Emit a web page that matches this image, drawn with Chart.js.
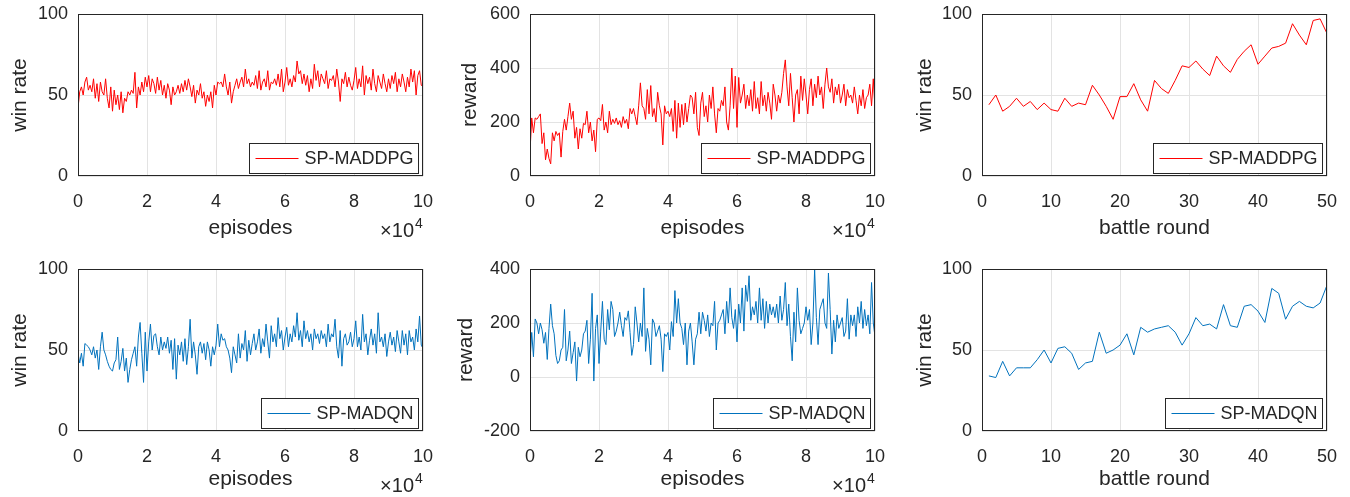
<!DOCTYPE html>
<html>
<head>
<meta charset="utf-8">
<title>SP-MADDPG / SP-MADQN</title>
<script src="https://cdn.jsdelivr.net/npm/chart.js@4.4.1/dist/chart.umd.min.js"></script>
<style>
  body { margin: 0; background: #fff; width: 1350px; height: 497px; position: relative; overflow: hidden; }
  canvas { position: absolute; }
</style>
</head>
<body>
<canvas id="p1"></canvas>
<canvas id="p2"></canvas>
<canvas id="p3"></canvas>
<canvas id="p4"></canvas>
<canvas id="p5"></canvas>
<canvas id="p6"></canvas>
<script>
// episodes are sampled every 500 steps (0 .. 100000)
const episodeStep = 500;
const episodeTicks = [0, 2, 4, 6, 8, 10];   // shown as x 10^4
const roundTicks = [0, 10, 20, 30, 40, 50];

// SP-MADDPG win rate over episodes
const winRateMaddpg = [
  42, 52, 55, 50, 58, 61, 53, 56, 52, 60,
  48, 57, 46, 58, 52, 50, 60, 48, 42, 55,
  40, 53, 44, 50, 41, 52, 39, 48, 46, 52,
  50, 53, 51, 64, 42, 55, 50, 58, 52, 61,
  55, 62, 52, 60, 57, 51, 61, 53, 59, 50,
  56, 48, 57, 53, 44, 55, 50, 52, 56, 51,
  57, 52, 59, 53, 60, 55, 49, 56, 45, 53,
  50, 57, 48, 52, 43, 50, 46, 52, 42, 56,
  50, 58, 57, 58, 55, 63, 55, 50, 58, 45,
  52, 56, 60, 54, 58, 61, 55, 66, 57, 60,
  55, 58, 56, 62, 54, 65, 53, 58, 60, 55,
  65, 53, 58, 57, 60, 56, 63, 55, 66, 52,
  58, 67, 56, 60, 55, 62, 58, 71, 63, 65,
  57, 63, 56, 62, 52, 60, 54, 69, 59, 65,
  55, 63, 60, 57, 65, 54, 60, 59, 62, 55,
  66, 58, 46, 60, 57, 64, 55, 61, 56, 53,
  59, 67, 54, 60, 55, 68, 50, 62, 57, 61,
  53, 66, 57, 52, 62, 58, 54, 63, 57, 52,
  60, 54, 62, 57, 64, 52, 60, 55, 63, 58,
  52, 61, 55, 66, 58, 65, 50, 62, 65, 56,
  55
];

// SP-MADDPG reward over episodes
const rewardMaddpg = [
  90, 215, 160, 215, 210, 220, 230, 120, 160, 60,
  100, 65, 45, 160, 130, 165, 150, 160, 70, 165,
  210, 170, 220, 270, 210, 240, 140, 180, 100, 175,
  140, 195, 190, 240, 160, 200, 130, 170, 90, 210,
  215, 205, 265, 170, 200, 160, 240, 190, 210, 195,
  215, 190, 205, 180, 220, 195, 210, 175, 250, 230,
  250, 220, 190, 260, 345, 260, 250, 210, 320, 230,
  335, 220, 250, 200, 310, 260, 230, 115, 260, 230,
  240, 220, 250, 165, 280, 140, 270, 180, 265, 190,
  270, 200, 250, 300, 290, 230, 310, 180, 150, 270,
  310, 220, 260, 200, 300, 250, 330, 230, 160, 250,
  240, 280, 260, 330, 200, 170, 260, 400, 250, 370,
  180, 365, 270, 300, 340, 250, 300, 260, 320, 240,
  350, 250, 290, 230, 350, 260, 300, 240, 310, 270,
  210, 340, 300, 240, 300, 270, 310, 380, 430, 330,
  260, 380, 290, 200, 300, 320, 230, 370, 280, 360,
  300, 230, 320, 360, 260, 340, 290, 370, 300, 330,
  250, 340, 400, 330, 310, 360, 270, 330, 300, 340,
  270, 300, 340, 260, 320, 290, 300, 270, 330, 280,
  230, 300, 260, 320, 250, 290, 300, 340, 260, 360,
  250
];

// SP-MADDPG win rate per battle round (1..50)
const battleMaddpg = [
  44, 50, 40, 43, 48, 43, 46, 41, 45, 41,
  40, 48, 43, 45, 44, 56, 50, 43, 35, 49,
  49, 57, 47, 40, 59, 54, 51, 59, 68, 67,
  71, 66, 62, 74, 68, 64, 72, 77, 81, 69,
  74, 79, 80, 82, 94, 87, 81, 96, 97, 88
];

// SP-MADQN win rate over episodes
const winRateMadqn = [
  48, 42, 48, 40, 54, 53, 52, 50, 47, 52,
  45, 50, 38, 52, 61, 50, 47, 43, 40, 38,
  37, 42, 44, 58, 38, 43, 51, 37, 45, 30,
  38, 44, 48, 52, 40, 58, 67, 48, 30, 61,
  37, 55, 66, 50, 59, 60, 52, 47, 58, 50,
  55, 51, 58, 48, 56, 38, 57, 32, 53, 47,
  55, 43, 57, 41, 52, 69, 45, 55, 47, 35,
  52, 55, 48, 54, 44, 55, 50, 40, 52, 47,
  53, 66, 52, 60, 56, 57, 52, 50, 45, 36,
  52, 47, 42, 60, 45, 54, 50, 62, 43, 56,
  47, 54, 60, 50, 55, 63, 48, 57, 52, 66,
  55, 45, 65, 55, 60, 52, 70, 57, 62, 50,
  58, 64, 52, 60, 55, 65, 58, 73, 56, 62,
  52, 68, 57, 62, 55, 60, 50, 63, 57, 60,
  54, 62, 57, 60, 52, 66, 55, 60, 58, 69,
  52, 45, 62, 40, 57, 60, 53, 55, 61, 52,
  57, 68, 52, 58, 50, 72, 55, 60, 47, 56,
  63, 53, 60, 48, 73, 55, 58, 52, 60, 46,
  55, 61, 53, 58, 49, 62, 55, 48, 62, 53,
  60, 47, 62, 55, 58, 50, 63, 55, 71, 53,
  51
];

// SP-MADQN reward over episodes
const rewardMadqn = [
  60, 165, 75, 215, 200, 160, 200, 175, 125, 165,
  65, 180, 270, 190, 160, 80, 50, 60, 100, 110,
  250, 60, 100, 170, 50, 90, 130, -15, 110, 75,
  100, 160, 170, 210, 50, 140, 310, -15, 180, 230,
  50, 170, 280, 140, 120, 250, 175, 280, 250, 150,
  170, 200, 240, 190, 150, 220, 210, 245, 165, 80,
  120, 260, 200, 130, 200, 150, 330, 95, 180, 140,
  45, 215, 200, 150, 170, 190, 140, 20, 160, 150,
  165, 100, 205, 150, 320, 200, 290, 200, 180, 120,
  200, 45, 170, 200, 130, 45, 140, 160, 240, 160,
  240, 210, 170, 230, 150, 200, 190, 280, 100, 200,
  210, 230, 250, 160, 280, 200, 330, 220, 180, 250,
  130, 270, 200, 330, 170, 340, 280, 375, 210, 260,
  230, 280, 200, 330, 210, 290, 180, 280, 200, 270,
  230, 260, 220, 270, 200, 300, 210, 250, 350, 190,
  270, 150, 60, 240, 130, 330, 210, 160, 180, 200,
  260, 210, 250, 120, 200, 400, 220, 120, 250, 270,
  290, 200, 180, 385, 250, 85, 210, 130, 230, 180,
  200, 220, 150, 170, 290, 140, 230, 190, 230, 150,
  260, 200, 280, 180, 250, 190, 230, 160, 350, 200,
  150
];

// SP-MADQN win rate per battle round (1..50)
const battleMadqn = [
  34, 33, 43, 34, 39, 39, 39, 44, 50, 42,
  51, 52, 48, 38, 42, 43, 61, 48, 50, 53,
  60, 47, 64, 61, 63, 64, 65, 61, 53, 60,
  70, 65, 66, 63, 78, 65, 64, 77, 78, 74,
  67, 88, 85, 69, 77, 80, 77, 76, 79, 90
];

const FONT = '"Liberation Sans", Arial, Helvetica, sans-serif';
const TEXT = '#262626';
const RED = '#ff0000';
const BLUE = '#0072bd';

Chart.defaults.font.family = FONT;
Chart.defaults.color = TEXT;

function episodePoints(values) {
  return values.map((v, i) => ({ x: i * episodeStep, y: v }));
}
function roundPoints(values) {
  return values.map((v, i) => ({ x: i + 1, y: v }));
}

// draws the MATLAB-like box, the inside legend and the x10^4 exponent
const matlabFrame = {
  id: 'matlabFrame',
  afterDraw(chart, args, opts) {
    const ctx = chart.ctx;
    const a = chart.chartArea;
    ctx.save();
    ctx.strokeStyle = TEXT;
    ctx.lineWidth = 1;
    ctx.strokeRect(Math.round(a.left) + 0.5, Math.round(a.top) + 0.5,
      Math.round(a.right - a.left) - 1, Math.round(a.bottom - a.top) - 1);

    // legend
    const ds = chart.data.datasets[0];
    ctx.font = '18px ' + FONT;
    const tw = ctx.measureText(ds.label).width;
    const w = 6 + 43 + 6 + tw + 5;
    const h = 30;
    const x0 = Math.round(a.right - 5 - w) + 0.5;
    const y0 = Math.round(a.bottom - 3 - h) + 0.5;
    ctx.fillStyle = '#fff';
    ctx.fillRect(x0, y0, w, h);
    ctx.strokeStyle = TEXT;
    ctx.strokeRect(x0, y0, w, h);
    ctx.strokeStyle = ds.borderColor;
    ctx.lineWidth = 1;
    ctx.beginPath();
    ctx.moveTo(x0 + 6, y0 + h / 2);
    ctx.lineTo(x0 + 49, y0 + h / 2);
    ctx.stroke();
    ctx.fillStyle = TEXT;
    ctx.textBaseline = 'middle';
    ctx.textAlign = 'left';
    ctx.fillText(ds.label, x0 + 55, y0 + h / 2 + 1);

    // exponent label
    if (opts.exponent) {
      ctx.textBaseline = 'alphabetic';
      ctx.textAlign = 'right';
      ctx.font = '20px ' + FONT;
      ctx.fillText('\u00d710', a.right - 9, a.bottom + 61);
      ctx.textAlign = 'left';
      ctx.font = '14px ' + FONT;
      ctx.fillText('4', a.right - 8, a.bottom + 52);
    }
    ctx.restore();
  }
};

function makePanel(cfg) {
  const canvas = document.getElementById(cfg.id);
  const W = 80 + 345 + 25, H = 14 + 162 + 75;
  canvas.width = W;
  canvas.height = H;
  canvas.style.left = (cfg.x - 80) + 'px';
  canvas.style.top = (cfg.y - 14) + 'px';
  canvas.style.width = W + 'px';
  canvas.style.height = H + 'px';

  return new Chart(canvas.getContext('2d'), {
    type: 'line',
    data: {
      datasets: [{
        label: cfg.label,
        data: cfg.points,
        borderColor: cfg.color,
        borderWidth: 1,
        pointRadius: 0,
        tension: 0,
        fill: false
      }]
    },
    options: {
      responsive: false,
      animation: false,
      devicePixelRatio: 1,
      layout: { padding: { left: 0, top: 14, right: 25, bottom: 0 } },
      plugins: {
        legend: { display: false },
        tooltip: { enabled: false },
        matlabFrame: { exponent: cfg.exponent }
      },
      scales: {
        x: {
          type: 'linear',
          min: cfg.xTicks[0] * cfg.xScale,
          max: cfg.xTicks[cfg.xTicks.length - 1] * cfg.xScale,
          afterFit: s => { s.height = 75; s.paddingLeft = 0; s.paddingRight = 0; },
          afterBuildTicks: s => { s.ticks = cfg.xTicks.map(t => ({ value: t * cfg.xScale })); },
          ticks: {
            padding: 15,
            maxRotation: 0,
            autoSkip: false,
            font: { size: 18 },
            color: TEXT,
            callback: v => String(v / cfg.xScale)
          },
          grid: { color: '#e3e3e3', lineWidth: 1, drawTicks: false },
          border: { display: false },
          title: {
            display: true,
            text: cfg.xTitle,
            font: { size: 21 },
            color: TEXT,
            padding: { top: 0, bottom: cfg.xTitlePad }
          }
        },
        y: {
          type: 'linear',
          min: cfg.yTicks[0],
          max: cfg.yTicks[cfg.yTicks.length - 1],
          afterFit: s => { s.width = 80; s.paddingTop = 0; s.paddingBottom = 0; },
          afterBuildTicks: s => { s.ticks = cfg.yTicks.map(t => ({ value: t })); },
          ticks: {
            padding: 10,
            autoSkip: false,
            font: { size: 18 },
            color: TEXT
          },
          grid: { color: '#e3e3e3', lineWidth: 1, drawTicks: false },
          border: { display: false },
          title: {
            display: true,
            text: cfg.yTitle,
            font: { size: 21 },
            color: TEXT,
            padding: { top: cfg.yTitlePad, bottom: 0 }
          }
        }
      }
    },
    plugins: [matlabFrame]
  });
}

const winTicks = [0, 50, 100];
const rewardTicksTop = [0, 200, 400, 600];
const rewardTicksBottom = [-200, 0, 200, 400];

makePanel({ id: 'p1', x: 78, y: 14, label: 'SP-MADDPG', color: RED,
  points: episodePoints(winRateMaddpg), xTicks: episodeTicks, xScale: 1e4, exponent: true,
  yTicks: winTicks, xTitle: 'episodes', yTitle: 'win rate', xTitlePad: 10, yTitlePad: 10 });
makePanel({ id: 'p2', x: 530, y: 14, label: 'SP-MADDPG', color: RED,
  points: episodePoints(rewardMaddpg), xTicks: episodeTicks, xScale: 1e4, exponent: true,
  yTicks: rewardTicksTop, xTitle: 'episodes', yTitle: 'reward', xTitlePad: 10, yTitlePad: 8 });
makePanel({ id: 'p3', x: 982, y: 14, label: 'SP-MADDPG', color: RED,
  points: roundPoints(battleMaddpg), xTicks: roundTicks, xScale: 1, exponent: false,
  yTicks: winTicks, xTitle: 'battle round', yTitle: 'win rate', xTitlePad: 10, yTitlePad: 11 });
makePanel({ id: 'p4', x: 78, y: 269, label: 'SP-MADQN', color: BLUE,
  points: episodePoints(winRateMadqn), xTicks: episodeTicks, xScale: 1e4, exponent: true,
  yTicks: winTicks, xTitle: 'episodes', yTitle: 'win rate', xTitlePad: 14, yTitlePad: 10 });
makePanel({ id: 'p5', x: 530, y: 269, label: 'SP-MADQN', color: BLUE,
  points: episodePoints(rewardMadqn), xTicks: episodeTicks, xScale: 1e4, exponent: true,
  yTicks: rewardTicksBottom, xTitle: 'episodes', yTitle: 'reward', xTitlePad: 14, yTitlePad: 4 });
makePanel({ id: 'p6', x: 982, y: 269, label: 'SP-MADQN', color: BLUE,
  points: roundPoints(battleMadqn), xTicks: roundTicks, xScale: 1, exponent: false,
  yTicks: winTicks, xTitle: 'battle round', yTitle: 'win rate', xTitlePad: 14, yTitlePad: 11 });
</script>
</body>
</html>
